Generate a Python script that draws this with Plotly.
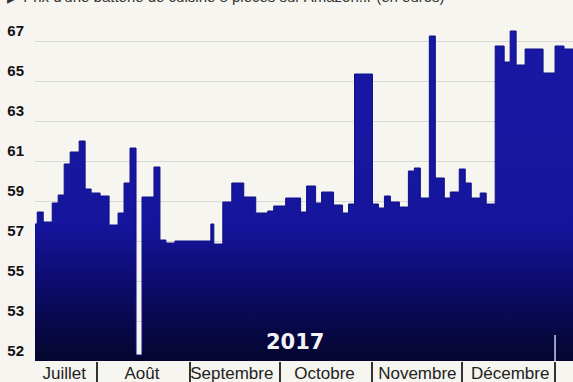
import plotly.graph_objects as go

# ---- data ----
step_start = [
    "2017-07-11", "2017-07-12", "2017-07-14", "2017-07-17", "2017-07-19", "2017-07-21",
    "2017-07-23", "2017-07-26", "2017-07-28", "2017-07-30", "2017-08-02", "2017-08-05",
    "2017-08-08", "2017-08-10", "2017-08-12", "2017-08-14", "2017-08-16", "2017-08-20",
    "2017-08-22", "2017-08-24", "2017-08-27", "2017-09-08", "2017-09-09", "2017-09-12",
    "2017-09-15", "2017-09-19", "2017-09-23", "2017-09-27", "2017-09-29", "2017-10-03",
    "2017-10-08", "2017-10-10", "2017-10-13", "2017-10-15", "2017-10-19", "2017-10-22",
    "2017-10-24", "2017-10-26", "2017-11-01", "2017-11-03", "2017-11-05", "2017-11-07",
    "2017-11-10", "2017-11-13", "2017-11-15", "2017-11-17", "2017-11-20", "2017-11-22",
    "2017-11-25", "2017-11-27", "2017-11-30", "2017-12-02", "2017-12-04", "2017-12-07",
    "2017-12-09", "2017-12-12", "2017-12-15", "2017-12-17", "2017-12-19", "2017-12-22",
    "2017-12-28", "2018-01-01", "2018-01-04",
]
price = [
    57.85, 58.45, 57.95, 58.9, 59.3, 60.85,
    61.45, 62.0, 59.6, 59.4, 59.25, 57.8,
    58.4, 59.9, 61.65, 51.3, 59.2, 60.7,
    57.05, 56.9, 57.0, 57.85, 56.85, 58.95,
    59.9, 59.2, 58.4, 58.5, 58.75, 59.15,
    58.45, 59.75, 58.9, 59.45, 58.8, 58.4,
    58.85, 65.35, 58.85, 58.65, 59.25, 58.95,
    58.7, 60.5, 60.65, 59.15, 67.25, 60.15,
    59.15, 59.45, 60.6, 59.9, 59.15, 59.4,
    58.85, 66.75, 65.95, 67.5, 65.8, 66.6,
    65.4, 66.75, 66.6,
]
series_end = "2018-01-08"

month_labels = ["Juillet", "Août", "Septembre", "Octobre", "Novembre", "Décembre"]
month_label_dates = ["2017-07-21", "2017-08-16", "2017-09-15", "2017-10-16", "2017-11-16", "2017-12-17"]
month_bounds = ["2017-08-01", "2017-09-01", "2017-10-01", "2017-11-01", "2017-12-01", "2018-01-01"]

y_tickvals = [51, 53, 55, 57, 59, 61, 63, 65, 67]
y_ticktext = ["52", "53", "55", "57", "59", "61", "63", "65", "67"]

title_text = "▶ Prix d'une batterie de cuisine 8 pièces sur Amazon.fr (en euros)"
year_text = "2017"

# ---- figure ----
xs = step_start + [series_end]
ys = price + [price[-1]]

fig = go.Figure()
fig.add_trace(go.Scatter(
    x=xs, y=ys, mode="lines", line_shape="hv",
    line=dict(color="#10108a", width=1),
    fill="tozeroy",
    fillgradient=dict(
        type="vertical", start=51, stop=67,
        colorscale=[[0, "#05052e"], [0.12, "#08084c"], [0.28, "#0e0e78"],
                    [0.42, "#15159c"], [1, "#1818a4"]],
    ),
    hoverinfo="skip", showlegend=False,
))

bg = "#f6f5f0"
fig.update_layout(
    width=573, height=382,
    margin=dict(l=35, r=0, t=20, b=21),
    paper_bgcolor=bg, plot_bgcolor=bg,
    showlegend=False,
    xaxis=dict(
        type="date",
        range=["2017-07-11 06:00", "2018-01-07 00:00"],
        tickvals=month_label_dates, ticktext=month_labels,
        ticks="", showgrid=False, zeroline=False, showline=False,
        tickfont=dict(family="Liberation Sans, Arial, sans-serif", size=17, color="#222222"),
        minor=dict(tickvals=month_bounds, ticks="outside", ticklen=20,
                   tickwidth=1.5, tickcolor="#333333", showgrid=False),
    ),
    yaxis=dict(
        range=[51, 68.05],
        tickvals=y_tickvals, ticktext=y_ticktext,
        ticklabelposition="outside top",
        ticklabelstandoff=10,
        showgrid=True, gridcolor="#d9d9d3", gridwidth=1,
        zeroline=False, showline=False, ticks="",
        tickfont=dict(family="Liberation Sans, Arial, sans-serif", size=15, color="#111111", weight=700),
    ),
    annotations=[
        dict(text=year_text, x="2017-10-06", y=51.95, xref="x", yref="y",
             showarrow=False, font=dict(family="DejaVu Sans", size=21, color="#f4f4f4", weight=700)),
        dict(text=title_text, x=0, y=1.0587, xref="paper", yref="paper",
             xanchor="left", yanchor="bottom", xshift=-30, yshift=-7, showarrow=False,
             font=dict(family="Liberation Sans, Arial, sans-serif", size=15, color="#333333")),
    ],
    shapes=[
        dict(type="line", xref="x", yref="y", x0=month_bounds[-1], x1=month_bounds[-1],
             y0=51, y1=52.3, line=dict(color="#c8d0f0", width=1.5), layer="above"),
    ],
)

fig.write_html("out.html")
